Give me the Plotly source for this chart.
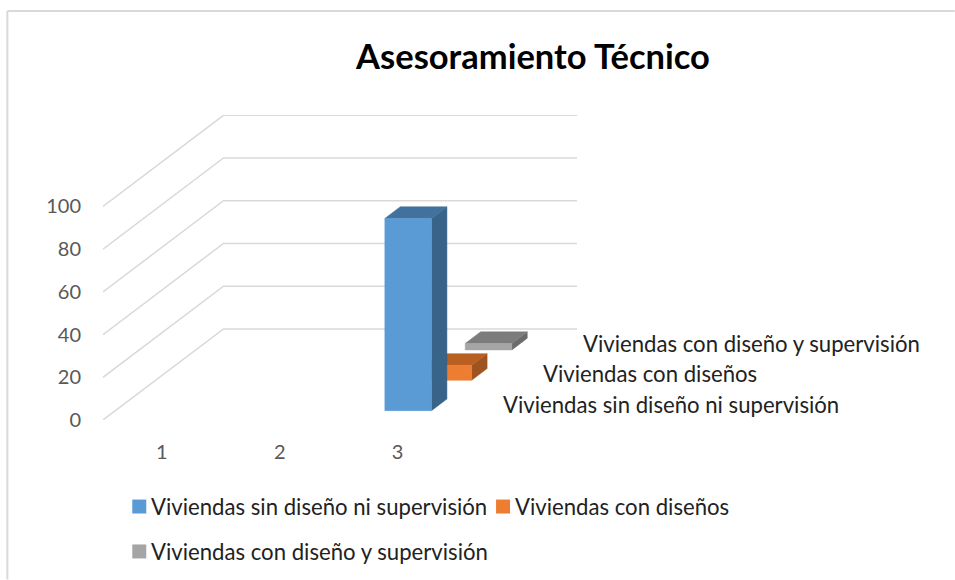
import plotly.graph_objects as go

# Data
categories = [1, 2, 3]
series_names = ["Viviendas sin diseño ni supervisión", "Viviendas con diseños", "Viviendas con diseño y supervisión"]
sin_diseno = [None, None, 90]
con_disenos = [None, None, 7]
con_supervision = [None, None, 3]
value_ticks = [0, 20, 40, 60, 80, 100]

series_values = [sin_diseno, con_disenos, con_supervision]
front_colors = ["#5B9BD5", "#ED7D31", "#A5A5A5"]
top_colors = ["#41719C", "#B85F22", "#7C7C7C"]
side_colors = ["#386489", "#9E5420", "#6B6B6B"]

W, H = 955, 580
L, R, T, B = 102.7, 577.0, 114.7, 420.3
CAT_PX = 117.9
VAL_PX = 2.14
DX, DY = 120.6 / CAT_PX, 91.3 / VAL_PX   # depth axis expressed in x / y axis units
BAR_W = 0.396
BAR_D = 0.128
BAR_SHIFT = -0.015
XMIN = 0.5
XMAX = XMIN + (R - L) / CAT_PX
YMAX = (B - T) / VAL_PX
TXT = "Lato, Carlito, sans-serif"


def proj(x, v, d):
    return x + d * DX, v + d * DY


def poly(pts, color, name):
    xs = [p[0] for p in pts] + [pts[0][0]]
    ys = [p[1] for p in pts] + [pts[0][1]]
    return go.Scatter(x=xs, y=ys, mode="lines", fill="toself", fillcolor=color,
                      line=dict(color=color, width=0.5), showlegend=False,
                      hoverinfo="text", text=name, cliponaxis=False)


fig = go.Figure()

# Gridlines: front of floor/side wall up to the back wall
for v in value_ticks:
    a, b = proj(XMIN, v, 0), proj(XMIN, v, 1)
    c = proj(XMIN + len(categories), v, 1)
    fig.add_trace(go.Scatter(x=[a[0], b[0], c[0]], y=[a[1], b[1], c[1]], mode="lines",
                             line=dict(color="#D9D9D9", width=1.5), showlegend=False,
                             hoverinfo="skip", cliponaxis=False))

# Bars, back to front
for s in reversed(range(len(series_values))):
    d0 = (s + 0.5) / len(series_values) - BAR_D / 2
    d1 = d0 + BAR_D
    for cat, val in zip(categories, series_values[s]):
        if val is None:
            continue
        x0, x1 = cat + BAR_SHIFT - BAR_W / 2, cat + BAR_SHIFT + BAR_W / 2
        name = f"{series_names[s]}: {val}"
        fig.add_trace(poly([proj(x1, 0, d0), proj(x1, 0, d1), proj(x1, val, d1), proj(x1, val, d0)],
                           side_colors[s], name))
        fig.add_trace(poly([proj(x0, val, d0), proj(x1, val, d0), proj(x1, val, d1), proj(x0, val, d1)],
                           top_colors[s], name))
        fig.add_trace(poly([proj(x0, 0, d0), proj(x1, 0, d0), proj(x1, val, d0), proj(x0, val, d0)],
                           front_colors[s], name))

pw, ph = R - L, B - T


def pxx(p):
    return (p - L) / pw


def pxy(p):
    return (B - p) / ph


TEXT_FONT = dict(family=TXT, size=22.15, color="#222222")

# Depth-axis labels
annotations = []
for s, name in enumerate(series_names):
    px_, py_ = proj(XMIN + len(categories), 0, (s + 0.5) / len(series_names))
    annotations.append(dict(x=px_, y=py_, xref="x", yref="y", text=name, showarrow=False,
                            xanchor="left", yanchor="middle", xshift=24, yshift=0.5, font=TEXT_FONT))

# Key: swatch left edge and vertical centre, in picture pixels
key_positions = [(132, 507), (496, 507), (132, 552)]
shapes = [
    dict(type="line", xref="paper", yref="paper", x0=pxx(7), x1=pxx(W), y0=pxy(10.5), y1=pxy(10.5),
         line=dict(color="#D9D9D9", width=2)),
    dict(type="line", xref="paper", yref="paper", x0=pxx(7), x1=pxx(7), y0=pxy(10.5), y1=pxy(H),
         line=dict(color="#D9D9D9", width=2)),
]
for s, (kx, ky) in enumerate(key_positions):
    shapes.append(dict(type="rect", xref="paper", yref="paper", x0=pxx(kx), x1=pxx(kx + 14),
                       y0=pxy(ky + 7), y1=pxy(ky - 7), fillcolor=front_colors[s], line=dict(width=0)))
    annotations.append(dict(x=pxx(kx + 17), y=pxy(ky), xref="paper", yref="paper", text=series_names[s],
                            showarrow=False, xanchor="left", yanchor="middle", font=TEXT_FONT))

fig.update_layout(
    width=W, height=H, autosize=False, showlegend=False,
    margin=dict(l=L, r=W - R, t=T, b=H - B, pad=0),
    paper_bgcolor="white", plot_bgcolor="white",
    title=dict(text="<b>Asesoramiento Técnico</b>", x=533 / W, xanchor="center", y=1 - 57 / H, yanchor="middle",
               font=dict(family=TXT, size=34.5, color="#000000")),
    xaxis=dict(range=[XMIN, XMAX], tickmode="array", tickvals=categories, ticktext=[str(c) for c in categories],
               showgrid=False, zeroline=False, showline=False, ticks="", ticklabelstandoff=18,
               tickfont=dict(family=TXT, size=20, color="#595959"), fixedrange=True),
    yaxis=dict(range=[0, YMAX], tickmode="array", tickvals=value_ticks, ticktext=[str(v) for v in value_ticks],
               showgrid=False, zeroline=False, showline=False, ticks="", ticklabelstandoff=21,
               tickfont=dict(family=TXT, size=20, color="#595959"), fixedrange=True),
    annotations=annotations,
    shapes=shapes,
    hovermode="closest",
)

fig.write_html("out.html", config={"displayModeBar": False},
               post_script="document.body.style.margin='0';")
